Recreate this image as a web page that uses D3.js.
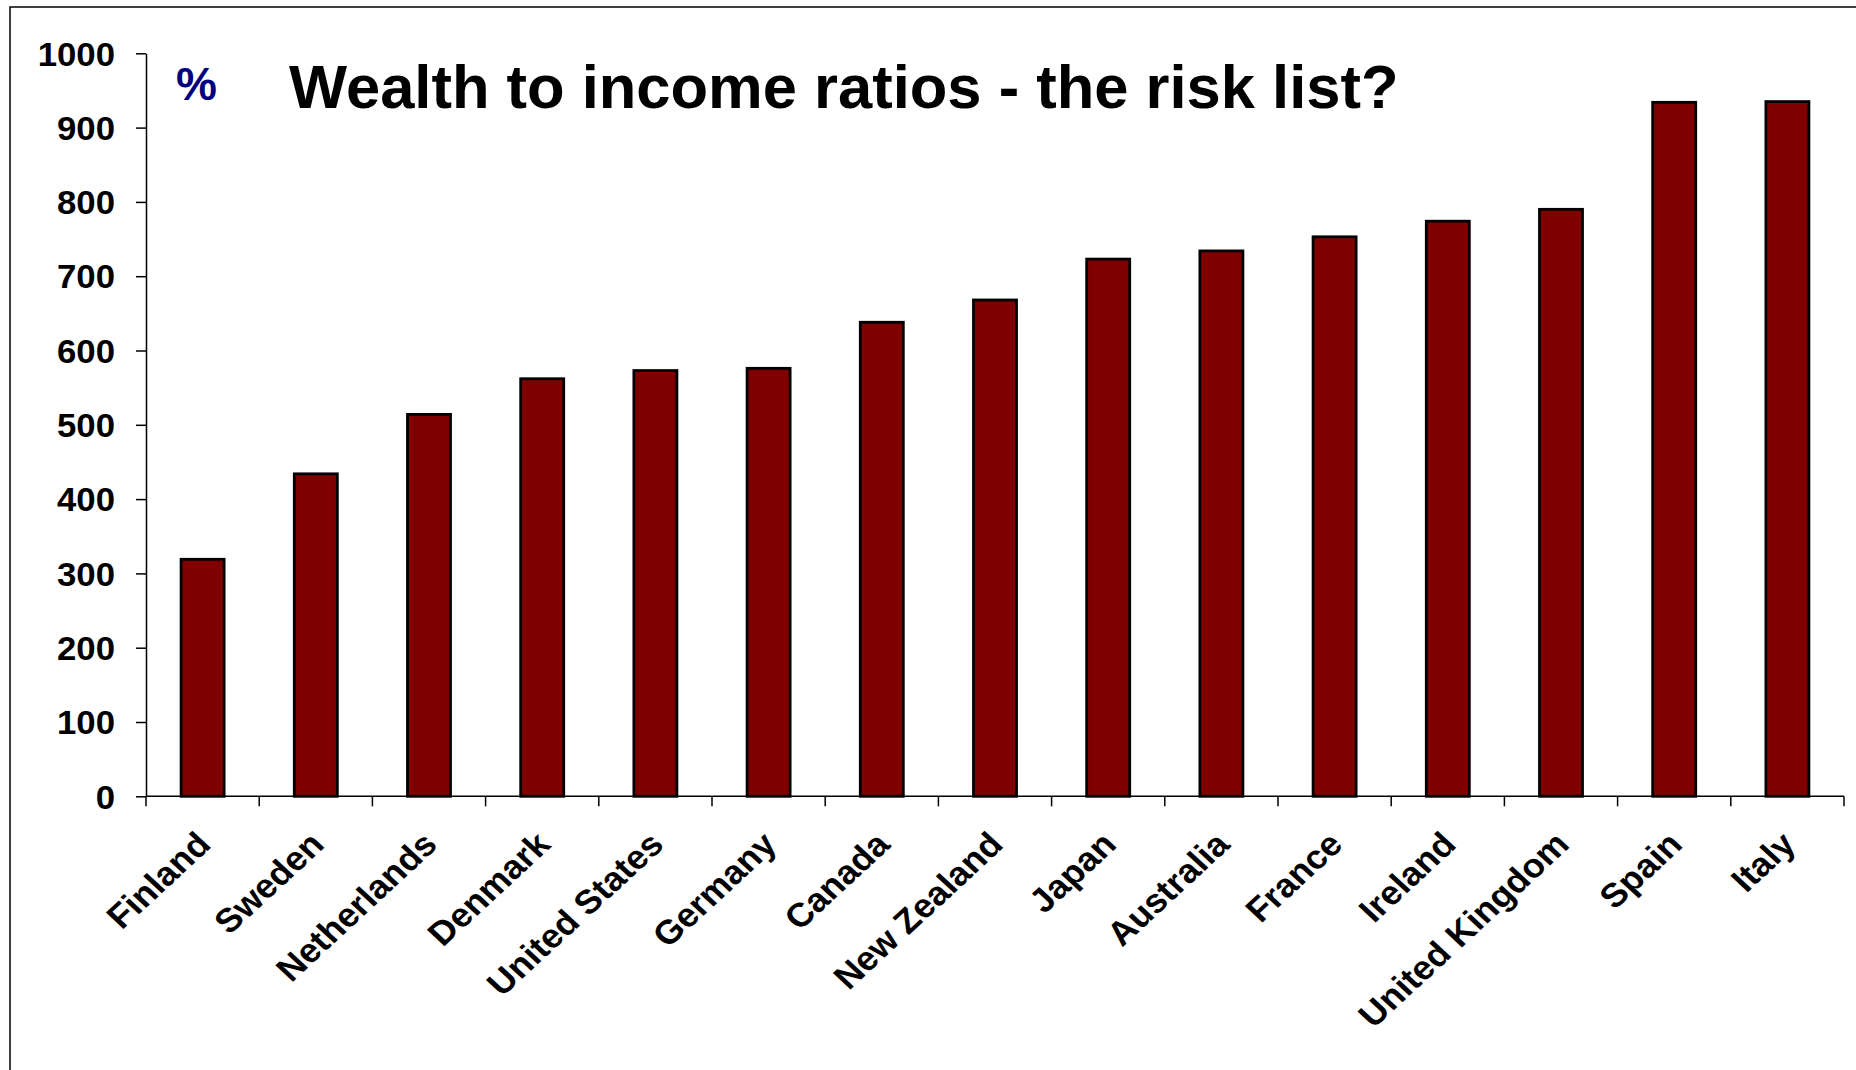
<!DOCTYPE html>
<html>
<head>
<meta charset="utf-8">
<script src="https://cdn.jsdelivr.net/npm/d3@7"></script>
<style>
  html, body { margin: 0; padding: 0; background: #fff; }
  svg { display: block; }
  text { font-family: "Liberation Sans", Arial, sans-serif; }
</style>
</head>
<body>
<svg id="chart" width="1856" height="1070"></svg>
<script>
// Household wealth as a percentage of disposable income, by country
const countries = [
  "Finland", "Sweden", "Netherlands", "Denmark", "United States",
  "Germany", "Canada", "New Zealand", "Japan", "Australia",
  "France", "Ireland", "United Kingdom", "Spain", "Italy"
];
const ratios = [319, 434, 514, 562, 573, 576, 638, 668, 723, 734, 753, 774, 790, 934, 935];
const yTicks = [0, 100, 200, 300, 400, 500, 600, 700, 800, 900, 1000];
const titleText = "Wealth to income ratios - the risk list?";
const unitText = "%";

const svg = d3.select("#chart");
const plot = { left: 146, right: 1844, top: 53.3, bottom: 796.3 };
const textWiden = 1.07; // labels are set slightly wide

// outer frame (runs off the right and bottom edges)
svg.append("rect")
  .attr("x", 10).attr("y", 7)
  .attr("width", 1900).attr("height", 1100)
  .attr("fill", "none").attr("stroke", "#000").attr("stroke-width", 1.5);

const innerPad = 0.62;
const x = d3.scaleBand()
  .domain(countries)
  .range([plot.left, plot.right])
  .paddingInner(innerPad)
  .paddingOuter(innerPad / 2);

const y = d3.scaleLinear()
  .domain([0, 1000])
  .range([plot.bottom, plot.top]);

// bars
svg.append("g").selectAll("rect")
  .data(countries)
  .join("rect")
  .attr("x", d => x(d))
  .attr("width", x.bandwidth())
  .attr("y", (d, i) => y(ratios[i]))
  .attr("height", (d, i) => y(0) - y(ratios[i]))
  .attr("fill", "#800000")
  .attr("stroke", "#000")
  .attr("stroke-width", 2.8);

// y axis
const tickLen = 10, tickGap = 21;
const yAxis = svg.append("g")
  .attr("transform", `translate(${plot.left},0)`)
  .call(d3.axisLeft(y).tickValues(yTicks).tickFormat(d3.format("d")).tickSize(tickLen).tickSizeOuter(0).tickPadding(tickGap));
yAxis.select(".domain").attr("stroke", "#000").attr("stroke-width", 1.5);
yAxis.selectAll(".tick line").attr("stroke", "#000").attr("stroke-width", 1.5);
yAxis.selectAll(".tick text")
  .attr("x", 0)
  .attr("transform", `translate(${-(tickLen + tickGap)},0) scale(${textWiden},1)`)
  .attr("font-family", "'Liberation Sans', Arial, sans-serif")
  .attr("font-weight", "bold")
  .attr("font-size", 32.5)
  .attr("fill", "#000")
  .attr("dy", "0.36em");

// x axis line and category boundary ticks
const xAxis = svg.append("g");
xAxis.append("line")
  .attr("x1", plot.left).attr("x2", plot.right)
  .attr("y1", y(0)).attr("y2", y(0))
  .attr("stroke", "#000").attr("stroke-width", 1.5);
const step = x.step();
const boundaries = countries.map(d => x(d) + x.bandwidth() / 2 - step / 2)
  .concat([x(countries[countries.length - 1]) + x.bandwidth() / 2 + step / 2]);
xAxis.selectAll("line.tick")
  .data(boundaries)
  .join("line")
  .attr("class", "tick")
  .attr("x1", d => d).attr("x2", d => d)
  .attr("y1", y(0)).attr("y2", y(0) + tickLen)
  .attr("stroke", "#000").attr("stroke-width", 1.5);

// rotated category labels
xAxis.selectAll("text")
  .data(countries)
  .join("text")
  .attr("transform", d => `translate(${x(d) + x.bandwidth() / 2 + 10},${y(0) + 50}) scale(1.08,1) rotate(-45)`)
  .attr("text-anchor", "end")
  .attr("font-weight", "bold")
  .attr("font-size", 33.5)
  .attr("fill", "#000")
  .text(d => d);

// unit marker and title
svg.append("text")
  .attr("x", 176).attr("y", 100)
  .attr("font-size", 46)
  .attr("font-weight", "bold")
  .attr("fill", "#000080")
  .text(unitText);

svg.append("text")
  .attr("x", 289).attr("y", 108)
  .attr("font-size", 61.5)
  .attr("font-weight", "bold")
  .attr("fill", "#000")
  .text(titleText);
</script>
</body>
</html>
